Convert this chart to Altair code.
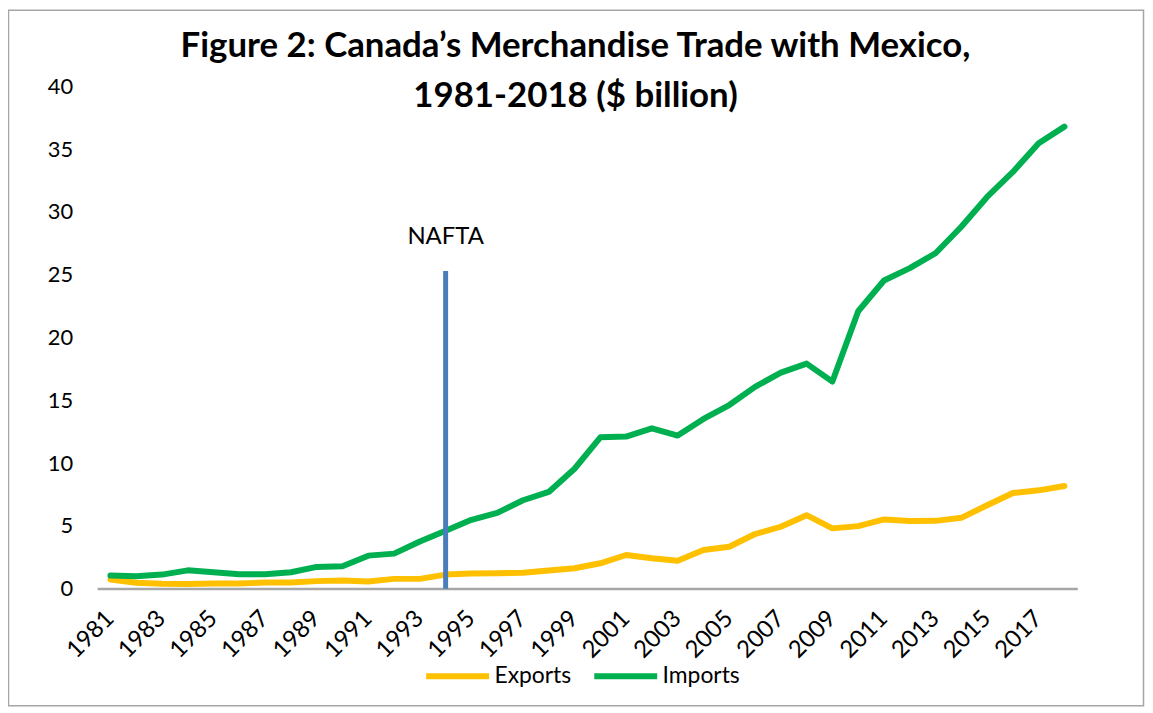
import altair as alt
import pandas as pd

years = list(range(1981, 2019))
exports = [0.74, 0.48, 0.40, 0.38, 0.42, 0.42, 0.50, 0.50, 0.61, 0.66, 0.58, 0.79, 0.79, 1.13,
           1.21, 1.24, 1.27, 1.45, 1.64, 2.03, 2.69, 2.43, 2.24, 3.09, 3.35, 4.36, 4.94, 5.86,
           4.81, 4.99, 5.52, 5.39, 5.41, 5.65, 6.65, 7.63, 7.84, 8.18]
imports = [1.05, 1.00, 1.13, 1.47, 1.32, 1.16, 1.16, 1.32, 1.74, 1.79, 2.64, 2.80, 3.77, 4.62,
           5.49, 6.04, 7.05, 7.71, 9.56, 12.06, 12.12, 12.78, 12.20, 13.52, 14.63, 16.08, 17.21, 17.93,
           16.50, 22.10, 24.55, 25.53, 26.72, 28.83, 31.20, 33.19, 35.48, 36.80]
series = ["Exports", "Imports"]
colors = ["#FFC000", "#00B050"]
nafta_year = [1994]
nafta_top = [25.3]
nafta_label_y = [28.0]
tick_years = list(range(1981, 2018, 2))

FONT = "Lato"

rows = []
for y, e, i in zip(years, exports, imports):
    rows.append({"year": y, "series": "Exports", "value": e})
    rows.append({"year": y, "series": "Imports", "value": i})
df = pd.DataFrame(rows)
nafta_df = pd.DataFrame({"year": nafta_year, "y0": [0], "top": nafta_top,
                         "ly": nafta_label_y, "label": ["NAFTA"]})

x_enc = alt.X("year:O", scale=alt.Scale(domain=years, paddingInner=0, paddingOuter=0),
              axis=alt.Axis(values=tick_years, title=None, labelAngle=-45, labelAlign="right",
                            labelBaseline="middle", labelFontSize=24, labelFont=FONT,
                            labelColor="#000000", ticks=False, domain=True, domainColor="#A6A6A6",
                            domainWidth=2, labelPadding=26, grid=False))
y_scale = alt.Scale(domain=[0, 40])

baseline = alt.Chart(nafta_df).mark_rule(color="#A6A6A6", strokeWidth=2).encode(
    y=alt.Y("y0:Q", scale=y_scale))

lines = alt.Chart(df).mark_line(strokeWidth=6, strokeCap="round", strokeJoin="round").encode(
    x=x_enc,
    y=alt.Y("value:Q", scale=y_scale,
            axis=alt.Axis(values=list(range(0, 41, 5)), title=None, domain=False, ticks=False,
                          grid=False, labelFontSize=22, labelFont=FONT, labelColor="#000000",
                          labelPadding=25)),
    color=alt.Color("series:N", scale=alt.Scale(domain=series, range=colors),
                    legend=alt.Legend(title=None, orient="none", direction="horizontal",
                                      legendX=327, legendY=558, symbolType="stroke",
                                      symbolStrokeWidth=6, symbolSize=4000,
                                      labelFontSize=23, labelFont=FONT, labelColor="#000000",
                                      columnPadding=10, labelOffset=2)),
    order="year:O",
)

rule = alt.Chart(nafta_df).mark_rule(color="#4A7EBB", strokeWidth=5).encode(
    x=alt.X("year:O"), y=alt.Y("y0:Q", scale=y_scale), y2="top:Q")

label = alt.Chart(nafta_df).mark_text(fontSize=24, font=FONT, color="#000000").encode(
    x=alt.X("year:O"), y=alt.Y("ly:Q", scale=y_scale), text="label:N")

frame = alt.Chart(nafta_df).mark_rect(fill=None, stroke="#A6A6A6", strokeWidth=1.5).encode(
    x=alt.value(-89.5), x2=alt.value(1051.5), y=alt.value(-76.5), y2=alt.value(622.5))

chart = alt.layer(frame, baseline, lines, rule, label).properties(
    width=985, height=505,
    padding={"left": 90, "top": 77, "right": 68, "bottom": 122},
    autosize=alt.AutoSizeParams(type="none"),
    title=alt.TitleParams(["Figure 2: Canada\u2019s Merchandise Trade with Mexico,",
                           "1981-2018 ($ billion)"],
                          font=FONT, fontSize=35, fontWeight="bold", color="#000000",
                          anchor="middle", offset=-24, dx=-12, dy=81, lineHeight=50),
).configure(background="white", view=alt.ViewConfig(stroke="transparent", strokeWidth=0))

chart.save("out.html", embed_options={"renderer": "svg", "actions": False})
